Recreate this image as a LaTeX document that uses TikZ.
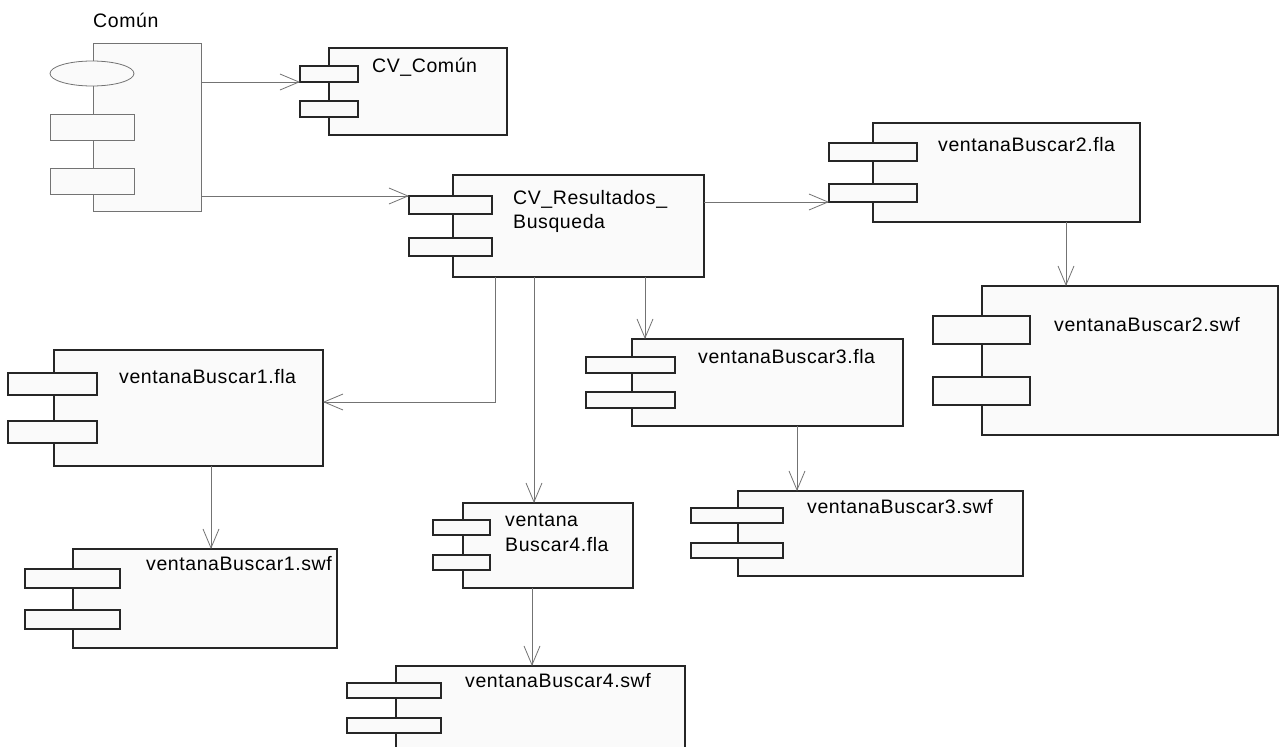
\documentclass[tikz,border=0pt]{standalone}
\usepackage{fontspec}
\setmainfont{Liberation Sans}[LetterSpace=3]
\usetikzlibrary{arrows.meta,shapes.geometric}

\begin{document}
\begin{tikzpicture}[x=1pt,y=-1pt,
  font=\fontsize{19.5}{24}\selectfont,
  comp/.style={draw=black!85,line width=1.6pt,fill=black!2,inner sep=0,outer sep=0,anchor=north west},
  common/.style={draw=black!55,line width=0.8pt,fill=black!2,inner sep=0,outer sep=0},
  lbl/.style={anchor=base west,inner sep=0},
  dep/.style={draw=black!55,line width=0.8pt,-{Straight Barb[length=19pt,width=16pt]}}]
%\draw [help lines,black!20!white] (0,0) grid[step=50] (1286,747);
\useasboundingbox (0,0) rectangle (1286,747);
\clip (0,0) rectangle (1286,747);

% the Comun package
\node[common,anchor=north west,minimum width=108pt,minimum height=168pt] (com) at (93,43) {};
\node[common,ellipse,minimum width=84pt,minimum height=25pt] (com-e) at (92,73.5) {};
\node[common,anchor=north west,minimum width=84pt,minimum height=26pt] (com-a) at (50,114) {};
\node[common,anchor=north west,minimum width=84pt,minimum height=26pt] (com-b) at (50,168) {};
\node[lbl] (com-t) at (93,27) {Común};

% components: name / box / ports
\foreach \n/\xa/\ya/\xb/\yb/\pa/\pb/\ra/\rb/\rh in {
	cvc/329/48/507/135/300/358/66/101/16,
	cvr/453/175/704/277/409/492/196/238/18,
	b2f/873/123/1140/222/829/917/143/184/18,
	b2s/982/286/1278/435/933/1030/316/377/28,
	b1f/54/350/323/466/8/97/373/421/22,
	b1s/73/549/337/648/25/120/569/610/19,
	b3f/632/339/903/426/586/675/357/392/16,
	b3s/738/491/1023/576/691/783/508/543/15,
	b4f/463/503/633/588/433/490/520/555/15,
	b4s/396/666/685/780/347/441/683/718/15}
{
	\node[comp,minimum width={(\xb-\xa)*1pt},minimum height={(\yb-\ya)*1pt}] (\n) at (\xa,\ya) {};
	\node[comp,minimum width={(\pb-\pa)*1pt},minimum height={\rh*1pt}] (\n-a) at (\pa,\ra) {};
	\node[comp,minimum width={(\pb-\pa)*1pt},minimum height={\rh*1pt}] (\n-b) at (\pa,\rb) {};
}

\node[lbl] (cvc-t) at (372,72) {CV\_Común};
\node[lbl] (cvr-t) at (513,204) {CV\_Resultados\_};
\node[lbl] (cvr-u) at (513,228) {Busqueda};
\node[lbl] (b2f-t) at (938,151) {ventanaBuscar2.fla};
\node[lbl] (b2s-t) at (1054,331) {ventanaBuscar2.swf};
\node[lbl] (b1f-t) at (119,383) {ventanaBuscar1.fla};
\node[lbl] (b1s-t) at (146,570) {ventanaBuscar1.swf};
\node[lbl] (b3f-t) at (698,363) {ventanaBuscar3.fla};
\node[lbl] (b3s-t) at (807,513) {ventanaBuscar3.swf};
\node[lbl] (b4f-t) at (505,526) {ventana};
\node[lbl] (b4f-u) at (505,551) {Buscar4.fla};
\node[lbl] (b4s-t) at (465,687) {ventanaBuscar4.swf};

% dependencies
\draw[dep] (com.east |- cvc-a.south west) -- (cvc-a.south west);
\draw[dep] (com.east |- cvr-a.north west) -- (cvr-a.north west);
\draw[dep] (cvr.east |- b2f-b.south west) -- (b2f-b.south west);
\draw[dep] ([xshift=193pt]b2f.south west) -- ([xshift=84pt]b2s.north west);
\draw[dep] ([xshift=42pt]cvr.south west) |- ([yshift=6pt]b1f.east);
\draw[dep] ([xshift=81pt]cvr.south west) -- ([xshift=71pt]b4f.north west);
\draw[dep] ([xshift=192pt]cvr.south west) -- ([xshift=13pt]b3f.north west);
\draw[dep] ([xshift=157pt]b1f.south west) -- ([xshift=138pt]b1s.north west);
\draw[dep] ([xshift=165pt]b3f.south west) -- ([xshift=59pt]b3s.north west);
\draw[dep] ([xshift=69pt]b4f.south west) -- ([xshift=136pt]b4s.north west);

\end{tikzpicture}
\end{document}
